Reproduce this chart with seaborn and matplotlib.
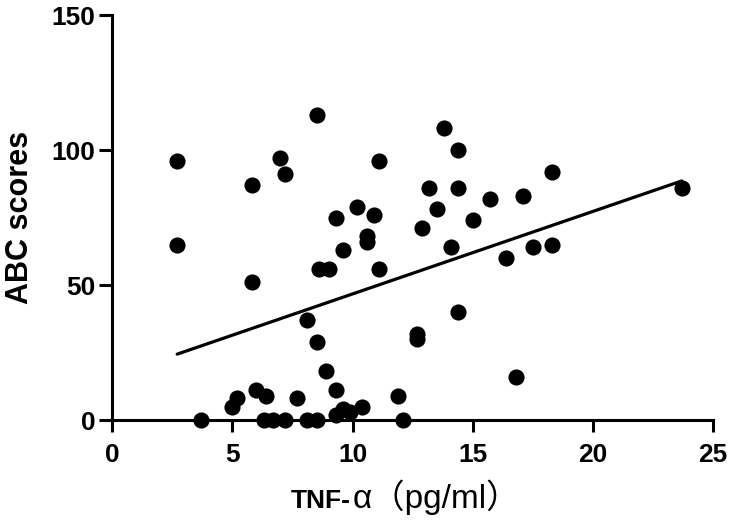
import matplotlib
matplotlib.use("Agg")
import matplotlib.pyplot as plt
import seaborn as sns
import pandas as pd

# TNF-alpha (pg/ml) and ABC scores
tnf = [2.7, 2.7, 3.7, 5.0, 5.2, 5.8, 5.8, 6.0, 6.4, 6.3,
       6.7, 7.0, 7.2, 7.2, 7.7, 8.1, 8.1, 8.5, 8.5, 8.5,
       8.6, 8.9, 9.0, 9.3, 9.3, 9.3, 9.6, 9.6, 9.9, 10.2,
       10.4, 10.6, 10.6, 10.9, 11.1, 11.1, 11.9, 12.1, 12.7, 12.7,
       12.9, 13.2, 13.5, 13.8, 14.1, 14.4, 14.4, 14.4, 15.0, 15.7,
       16.4, 16.8, 17.1, 17.5, 18.3, 18.3, 23.7]
abc = [96, 65, 0, 5, 8, 87, 51, 11, 9, 0,
       0, 97, 91, 0, 8, 37, 0, 113, 29, 0,
       56, 18, 56, 75, 11, 2, 63, 4, 3, 79,
       5, 68, 66, 76, 96, 56, 9, 0, 32, 30,
       71, 86, 78, 108, 64, 100, 86, 40, 74, 82,
       60, 16, 83, 64, 92, 65, 86]

xticks = [0, 5, 10, 15, 20, 25]
yticks = [0, 50, 100, 150]

df = pd.DataFrame({"tnf": tnf, "abc": abc})

sns.set_style("ticks", rc={"text.color": "black", "xtick.color": "black",
                           "ytick.color": "black", "axes.labelcolor": "black",
                           "axes.edgecolor": "black"})
plt.rcParams["font.family"] = ["Liberation Sans", "Noto Sans CJK SC", "DejaVu Sans"]

fig = plt.figure(figsize=(7.33, 5.23), dpi=100)
ax = fig.add_axes([0.1532, 0.1969, 0.8195, 0.7744])

sns.regplot(
    data=df, x="tnf", y="abc", ax=ax, ci=None, truncate=True,
    scatter_kws={"s": 135, "color": "black", "linewidths": 0, "clip_on": False, "zorder": 5, "alpha": 1},
    line_kws={"color": "black", "linewidth": 2.3},
)

ax.set_xlim(0, 25)
ax.set_ylim(0, 150)
ax.set_xticks(xticks)
ax.set_yticks(yticks)
ax.set_xlabel("")
ax.set_ylabel("")
sns.despine(ax=ax)
for s in ["left", "bottom"]:
    ax.spines[s].set_linewidth(2.2)
    ax.spines[s].set_color("black")
ax.tick_params(axis="both", width=2.2, color="black", labelcolor="black", labelsize=19)
ax.tick_params(axis="x", length=8.5, pad=8)
ax.tick_params(axis="y", length=9.5, pad=2.5)
for lab in ax.get_xticklabels() + ax.get_yticklabels():
    lab.set_fontweight("bold")

# axis titles
fig.text(20 / 733, 0.584, "ABC scores", rotation=90, ha="center", va="center",
         fontsize=22, fontweight="bold", color="black")
fig.text(351 / 733, 15 / 523, "TNF-", ha="right", va="baseline",
         fontsize=19, fontweight="bold", color="black")
fig.text(353 / 733, 15 / 523, "α（pg/ml）", ha="left", va="baseline", fontsize=24,
         color="black", family=["Liberation Sans", "Noto Sans CJK SC", "DejaVu Sans"])

fig.savefig("out.png", dpi=100)
